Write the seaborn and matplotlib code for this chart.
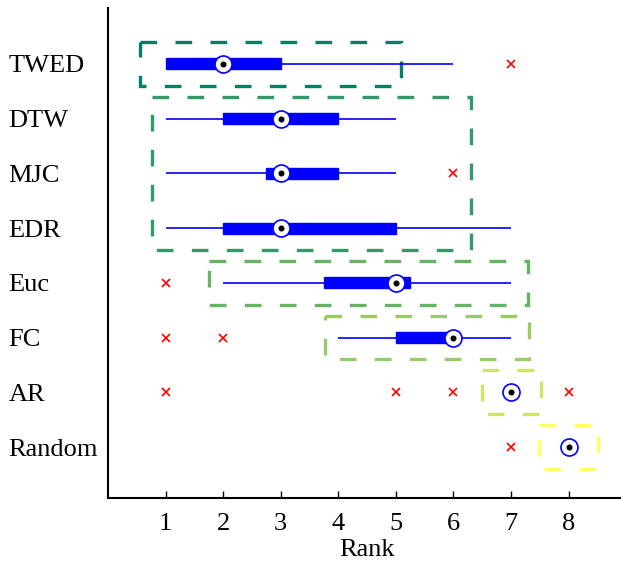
import numpy as np
import pandas as pd
import matplotlib
matplotlib.use("Agg")
import matplotlib.pyplot as plt
import seaborn as sns

# ranks of each method over the datasets
methods = ["TWED", "DTW", "MJC", "EDR", "Euc", "FC", "AR", "Random"]
twed = [1, 1, 1, 1, 1, 1, 2, 2, 2, 2, 2, 3, 3, 3, 3, 3, 4, 5, 6, 7]
dtw = [1, 1, 1, 2, 2, 2, 2, 3, 3, 3, 3, 3, 3, 4, 4, 4, 4, 5, 5, 5]
mjc = [1, 1, 2, 2, 2, 3, 3, 3, 3, 3, 3, 3, 4, 4, 4, 4, 5, 5, 5, 6]
edr = [1, 1, 1, 2, 2, 2, 2, 2, 3, 3, 3, 3, 4, 4, 5, 5, 5, 6, 6, 7]
euc = [1, 2, 3, 3, 3, 4, 4, 5, 5, 5, 5, 5, 5, 5, 5, 6, 6, 7, 7, 7]
fc = [1, 2, 4, 5, 5, 5, 5, 6, 6, 6, 6, 6, 6, 6, 6, 6, 7, 7, 7, 7]
ar = [1, 5, 6] + [7] * 16 + [8]
rnd = [7] + [8] * 19
ranks = [twed, dtw, mjc, edr, euc, fc, ar, rnd]

# groups of methods with no significant difference (first, last, x range)
group_first = ["TWED", "DTW", "Euc", "FC", "AR", "Random"]
group_last = ["TWED", "EDR", "Euc", "FC", "AR", "Random"]
group_lo = [0.56, 0.76, 1.76, 3.77, 6.49, 7.49]
group_hi = [5.09, 6.30, 7.30, 7.31, 7.52, 8.52]

df = pd.DataFrame({
    "Method": np.repeat(methods, [len(r) for r in ranks]),
    "Rank": np.concatenate(ranks),
})

sns.set_style("white")
plt.rcParams["font.family"] = ["Liberation Serif", "DejaVu Serif"]
plt.rcParams["text.color"] = "black"
plt.rcParams["axes.labelcolor"] = "black"
plt.rcParams["xtick.color"] = "black"
plt.rcParams["ytick.color"] = "black"

fig = plt.figure(figsize=(6.21, 5.64), dpi=100)
ax = fig.add_axes([0.1739, 0.117, 9 * 57.57 / 621, 0.8688])

blue = "#0000ff"
sns.boxplot(data=df, x="Rank", y="Method", order=methods, orient="h",
            width=0.2, showcaps=False, whis=1.5, ax=ax,
            boxprops=dict(facecolor=blue, edgecolor=blue, linewidth=1),
            whiskerprops=dict(color=blue, linewidth=1.2),
            medianprops=dict(linewidth=0),
            flierprops=dict(marker="x", markeredgecolor="red",
                            markersize=6, markeredgewidth=1.2))

# median marker, matlab style
med = df.groupby("Method")["Rank"].median().reindex(methods)
ypos = np.arange(len(methods))
ax.scatter(med.values, ypos, s=150, facecolor="white", edgecolor=blue,
           linewidth=1.2, zorder=5)
ax.scatter(med.values, ypos, s=11, color="black", zorder=6)

# dashed group boxes
cmap = plt.get_cmap("summer")
for i in range(len(group_first)):
    y0 = methods.index(group_first[i]) - 0.4
    y1 = methods.index(group_last[i]) + 0.4
    ax.add_patch(plt.Rectangle((group_lo[i], y0), group_hi[i] - group_lo[i],
                               y1 - y0, fill=False,
                               edgecolor=cmap(i / (len(group_first) - 1)),
                               linewidth=2.4, linestyle=(0, (5, 5.5)),
                               zorder=1))

ax.set_xlim(0, 9)
ax.set_ylim(7.93, -1.02)
ax.set_xticks(range(1, 9))
ax.set_xlabel("Rank", fontsize=19, labelpad=3)
ax.set_ylabel("")
ax.tick_params(axis="x", direction="in", length=5, width=1, labelsize=19,
               pad=11, bottom=True)
ax.tick_params(axis="y", left=False, labelsize=19, pad=68)
for lab in ax.get_yticklabels():
    lab.set_horizontalalignment("left")
for s in ["top", "right"]:
    ax.spines[s].set_visible(False)
for s in ["left", "bottom"]:
    ax.spines[s].set_color("black")
    ax.spines[s].set_linewidth(1.5)

fig.savefig("out.png", dpi=100)
